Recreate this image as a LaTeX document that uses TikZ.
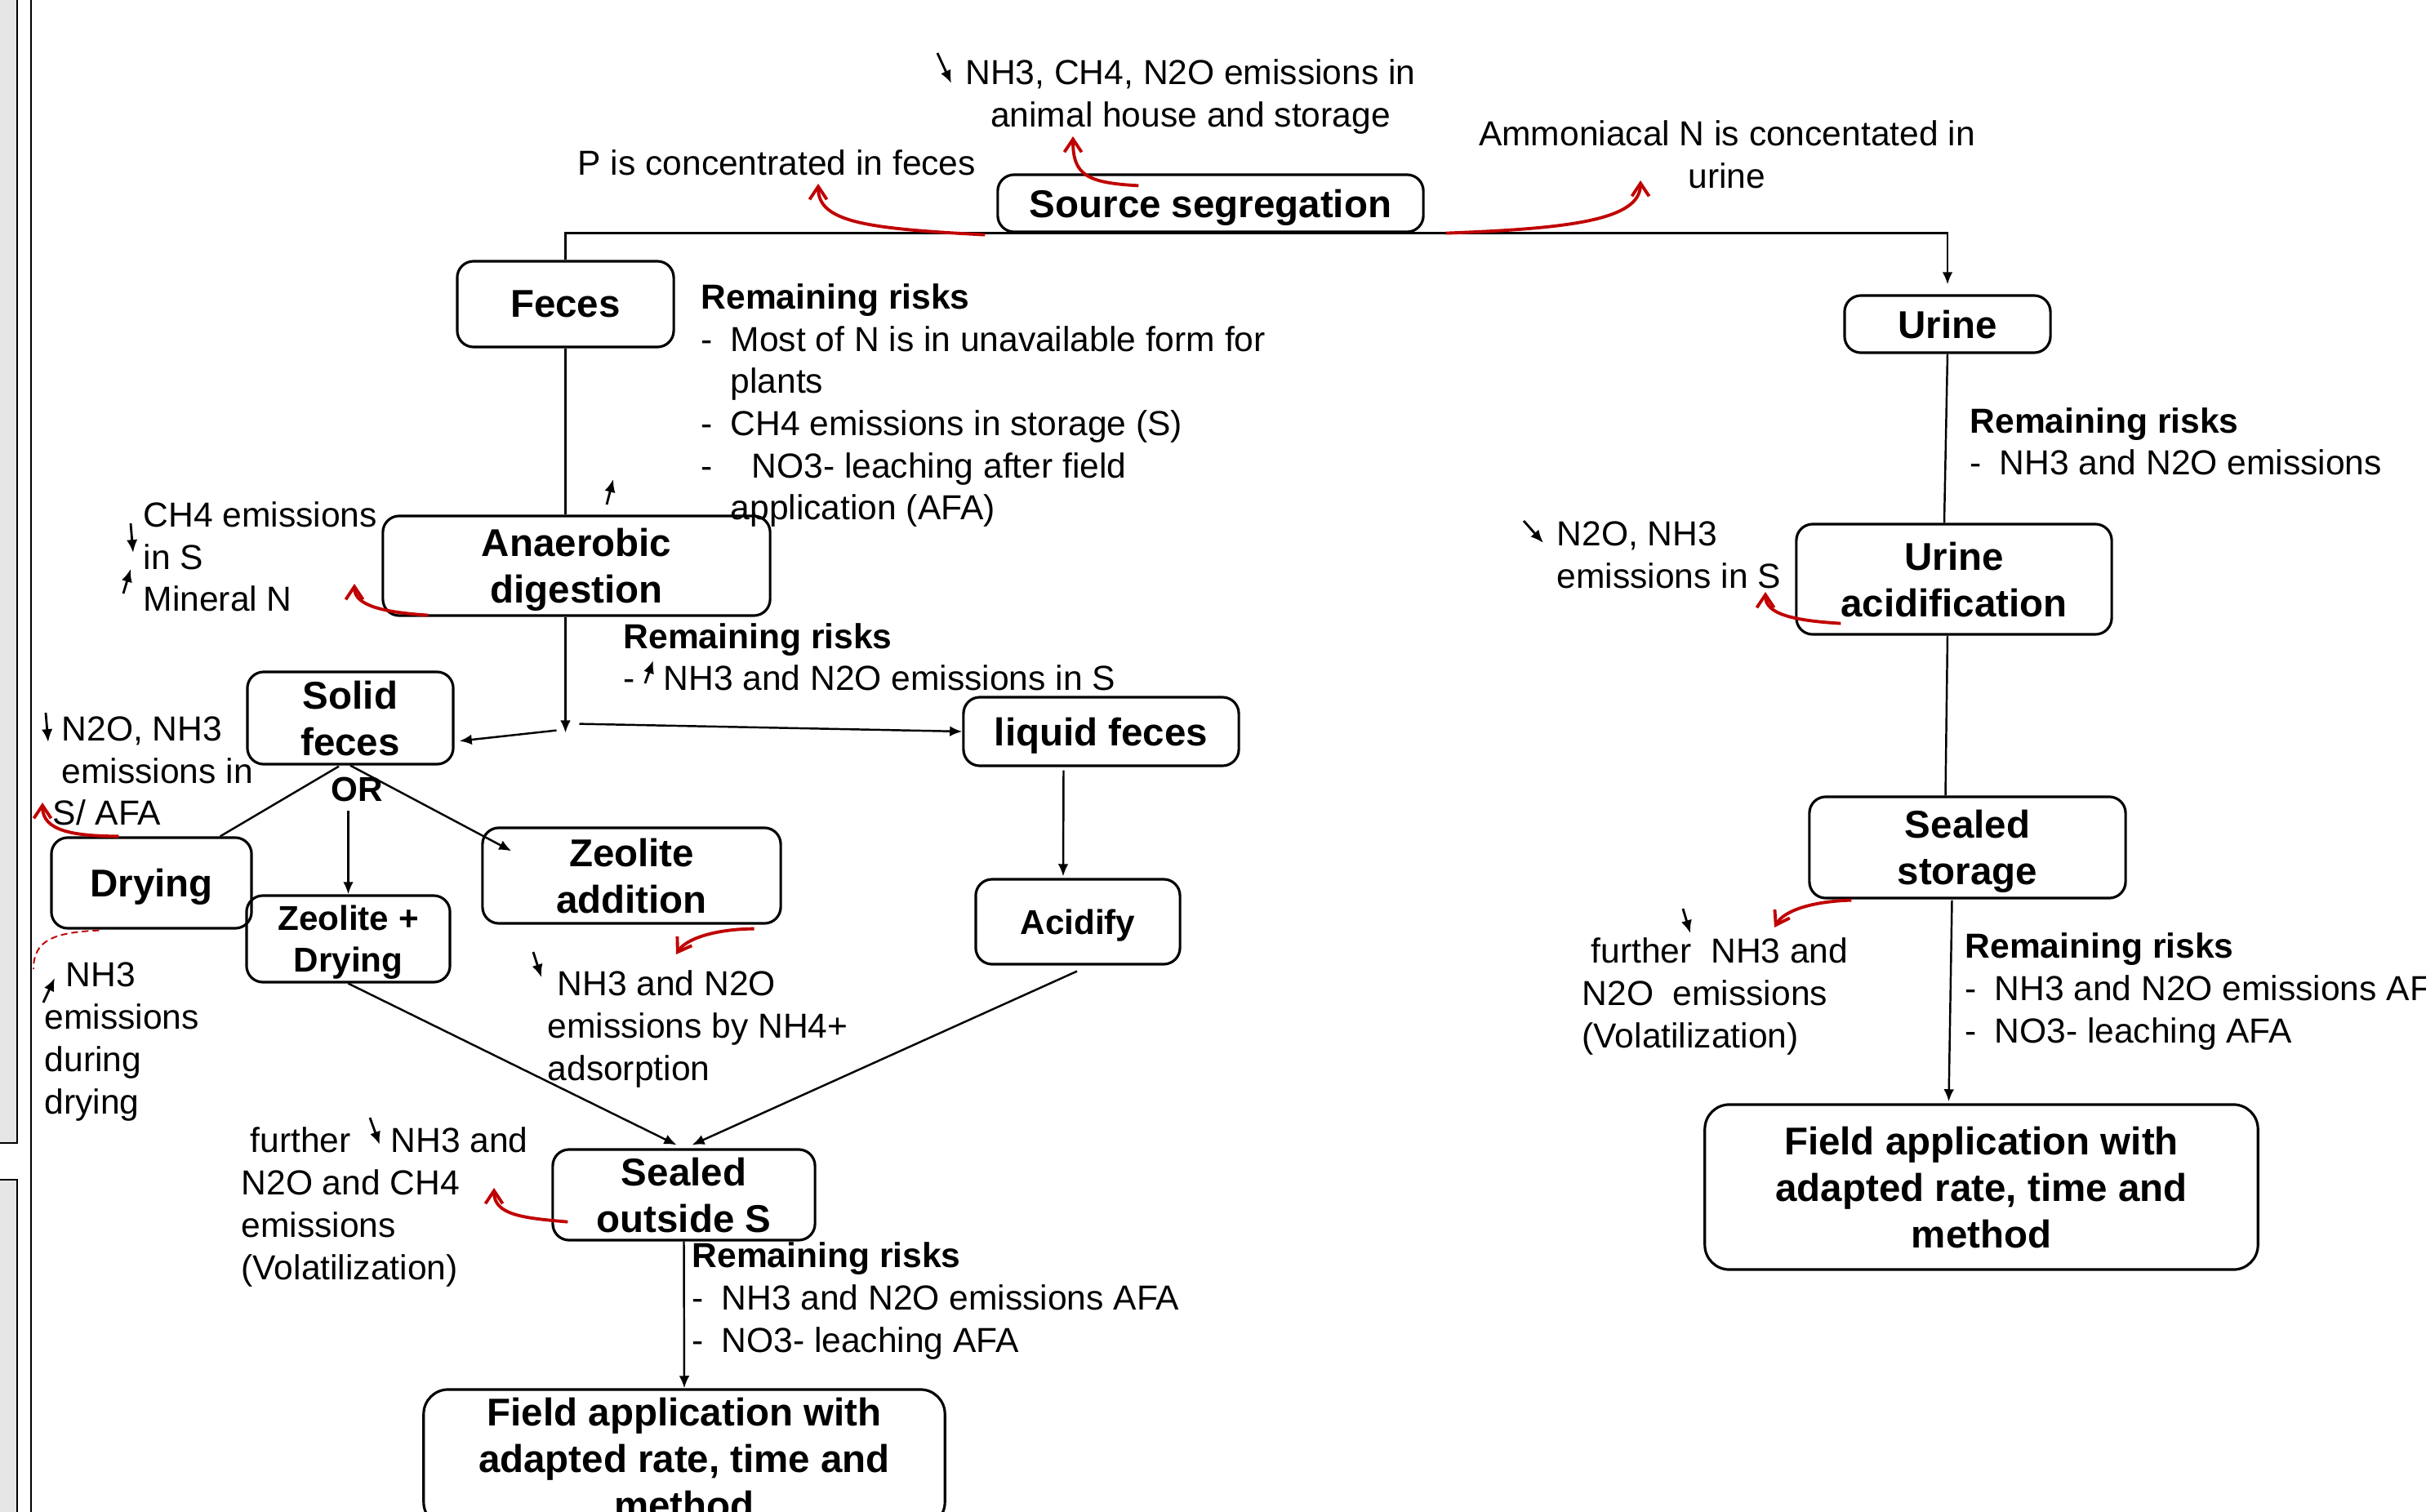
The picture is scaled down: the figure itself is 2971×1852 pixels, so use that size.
\documentclass[tikz,border=0pt]{standalone}
\usepackage{fontspec}
\setmainfont{Liberation Sans}
\usetikzlibrary{positioning,calc,arrows.meta}
\definecolor{effectred}{HTML}{C00000}
\definecolor{panelgrey}{HTML}{E7E6E6}
\tikzstyle{stage}=[
  draw=black,
  rounded corners=2mm,
  line width=.9pt,
  align=center,
  inner sep=0pt,
  text depth=0pt,
  font=\fontsize{13.5}{16.2}\selectfont\bfseries
]
% notes sit on the baseline of their last line
\tikzstyle{note}=[
  align=left,
  inner sep=0pt,
  anchor=base west,
  font=\fontsize{12.1}{14.7}\selectfont
]
\tikzstyle{link}=[draw=black,line width=.7pt,>={Latex[length=4.3pt,width=3.6pt]}]
\tikzstyle{effect}=[draw=effectred,line width=1.1pt,-{Straight Barb[length=4.5pt,width=6pt]}]
\tikzstyle{trend}=[draw=black,line width=.8pt,-{Latex[length=4.5pt,width=3.8pt]}]
\newcommand{\riskdash}{\makebox[0.36cm][l]{-}}
\newcommand{\riskgap}{\hspace*{0.36cm}}

\begin{document}
\begin{tikzpicture}[x=0.01cm,y=-0.01cm]
  \useasboundingbox (0,0) rectangle (2971,1852);
  \clip (0,0) rectangle (2971,1852);
  % slide edge
  \draw[fill=panelgrey,line width=.6pt] (-10,-10) rectangle (21,1400);
  \draw[fill=panelgrey,line width=.6pt] (-10,1445) rectangle (21,1870);
  \draw[line width=.6pt] (38,-10) -- (38,1870);

  % stages
  \node[stage,minimum width=5.21cm,minimum height=0.70cm] (source) at (1482.5,249) {Source segregation};
  \node[stage,minimum width=2.65cm,minimum height=1.05cm] (feces) at (692.5,372.5) {Feces};
  \node[stage,minimum width=2.52cm,minimum height=0.70cm] (urine) at (2385,397) {Urine};
  \node[stage,minimum width=4.74cm,minimum height=1.22cm] (anaer) at (706,693) {Anaerobic\\digestion};
  \node[stage,minimum width=2.52cm,minimum height=1.13cm] (solid) at (429,879.5) {Solid\\feces};
  \node[stage,minimum width=3.37cm,minimum height=0.84cm] (liquid) at (1348.5,896) {liquid feces};
  \node[stage,minimum width=2.45cm,minimum height=1.11cm] (drying) at (185.5,1081.5) {Drying};
  \node[stage,minimum width=2.49cm,minimum height=1.06cm,font=\fontsize{12}{14.5}\selectfont\bfseries] (zeodry) at (426.5,1150) {Zeolite +\\Drying};
  \node[stage,minimum width=3.65cm,minimum height=1.17cm] (zeoadd) at (773.5,1072.5) {Zeolite\\addition};
  \node[stage,minimum width=2.50cm,minimum height=1.04cm,font=\fontsize{12}{14.5}\selectfont\bfseries] (acidify) at (1320,1129) {Acidify};
  \node[stage,minimum width=3.21cm,minimum height=1.11cm] (sealedout) at (837.5,1463.5) {Sealed\\outside S};
  \node[stage,minimum width=6.38cm,minimum height=1.68cm,rounded corners=3mm] (fieldL) at (838,1786) {Field application with\\adapted rate, time and\\method};
  \node[stage,minimum width=3.86cm,minimum height=1.35cm] (urineacid) at (2393,709.5) {Urine\\acidification};
  \node[stage,minimum width=3.87cm,minimum height=1.24cm] (sealedst) at (2409.5,1038) {Sealed\\storage};
  \node[stage,minimum width=6.77cm,minimum height=2.02cm,rounded corners=3mm] (fieldR) at (2426.5,1454) {Field application with\\adapted rate, time and\\method};
  \node[font=\fontsize{12}{14}\selectfont\bfseries,inner sep=0pt] (or) at (437,967) {OR};

  % notes
  \node[note,align=center,anchor=base] (housenote) at (1458,155.5) {NH3, CH4, N2O emissions in\\animal house and storage};
  \node[note] (pnote) at (707,215) {P is concentrated in feces};
  \node[note,align=center,anchor=base] (ammnote) at (2115,230.5) {Ammoniacal N is concentated in\\urine};
  \node[note] (fecesrisk) at (858,637) {\textbf{Remaining risks}\\
    \riskdash Most of N is in unavailable form for\\
    \riskgap plants\\
    \riskdash CH4 emissions in storage (S)\\
    \riskdash\hspace*{0.26cm}NO3- leaching after field\\
    \riskgap application (AFA)};
  \node[note] (anaerrisk) at (763,846) {\textbf{Remaining risks}\\\makebox[0.49cm][l]{-}NH3 and N2O emissions in S};
  \node[note] (ch4note) at (175,749) {CH4 emissions\\in S\\Mineral N};
  \node[note] (solidnote) at (64,1011) {\hspace*{0.11cm}N2O, NH3\\\hspace*{0.11cm}emissions in\\S/ AFA};
  \node[note] (dryingnote) at (54,1364) {\hspace*{0.26cm}NH3\\emissions\\during\\drying};
  \node[note] (zeonote) at (670,1323) {\hspace*{0.12cm}NH3 and N2O\\emissions by NH4+\\adsorption};
  \node[note] (outnote) at (295,1567) {\hspace*{0.11cm}further\hspace*{0.49cm}NH3 and\\N2O and CH4\\emissions\\(Volatilization)};
  \node[note] (outrisk) at (847,1656) {\textbf{Remaining risks}\\\riskdash NH3 and N2O emissions AFA\\\riskdash NO3- leaching AFA};
  \node[note] (urinerisk) at (2412,582) {\textbf{Remaining risks}\\\riskdash NH3 and N2O emissions};
  \node[note] (acidnote) at (1906,720.5) {N2O, NH3\\emissions in S};
  \node[note] (storenote) at (1937,1283) {\hspace*{0.11cm}further\ \ NH3 and\\N2O\ \ emissions\\(Volatilization)};
  \node[note] (storerisk) at (2406,1277) {\textbf{Remaining risks}\\\riskdash NH3 and N2O emissions AFA\\\riskdash NO3- leaching AFA};

  % flow
  \coordinate (split) at ($(feces.south |- anaer.south)+(0,142)$);
  \draw[link,->,shorten >=3.4pt] (feces.north) -- (feces.north |- source.south) -| (urine.north);
  \draw[link] (feces.south) -- (feces.south |- anaer.north);
  \draw[link,->] (feces.south |- anaer.south) -- (split);
  \draw[link,->] ($(split)+(-11,-3)$) -- ($(solid.south east)+(6,-30)$);
  \draw[link,->] ($(split)+(17,-11)$) -- (liquid.west);
  \draw[link] ($(solid.south)+(-14,1)$) -- ($(drying.north east)+(-40,0)$);
  \draw[link,->,shorten <=3pt] (zeodry.north |- or.south) -- (zeodry.north);
  \draw[link,->] (solid.south) -- ($(zeoadd.north west)+(37,30)$);
  \draw[link,->] ($(liquid.south)+(-46,4)$) -- ($(acidify.north)+(-18,-2)$);
  \draw[link,->] (zeodry.south) -- ($(sealedout.north)+(-9,-4)$);
  \draw[link,->] ($(acidify.south)+(-1,7)$) -- ($(sealedout.north)+(10,-4)$);
  \draw[link,->] (sealedout.south) -- (fieldL.north);
  \draw[link] (urine.south) -- ($(urineacid.north)+(-12,0)$);
  \draw[link] ($(urineacid.south)+(-8,0)$) -- ($(sealedst.north)+(-27,0)$);
  \draw[link,->] ($(sealedst.south)+(-19,1)$) -- ($(fieldR.north)+(-40,-2)$);

  % effects (red)
  \coordinate (ptip) at (1002,225);
  \coordinate (housetip) at (1314,167);
  \coordinate (ammtip) at (2009,221);
  \coordinate (ch4tip) at (434,715);
  \coordinate (drytip) at (52,983);
  \coordinate (zeotip) at (828,1169);
  \coordinate (outtip) at (605,1455);
  \coordinate (acidtip) at (2162,725);
  \coordinate (storetip) at (2173,1136);
  \coordinate (dashend) at (41,1187);
  \draw[effect] ($(source.south west)+(-14,2)$) .. controls (1060,280) and (1002,272) .. (ptip);
  \draw[effect] ($(source.north west)+(174,15)$) .. controls (1330,224) and (1314,214) .. (housetip);
  \draw[effect] ($(source.south east)+(26,0)$) .. controls (1920,280) and (2009,270) .. (ammtip);
  \draw[effect] ($(anaer.south west)+(57,-2)$) .. controls (470,750) and (434,742) .. (ch4tip);
  \draw[effect] ($(drying.north west)+(84,0)$) .. controls (90,1024) and (52,1018) .. (drytip);
  \draw[effect] ($(zeoadd.south east)+(-34,5)$) .. controls (875,1138) and (840,1150) .. (zeotip);
  \draw[effect] ($(sealedout.south west)+(20,-24)$) .. controls (640,1492) and (605,1488) .. (outtip);
  \draw[effect] ($(urineacid.south west)+(56,-15)$) .. controls (2195,760) and (2162,752) .. (acidtip);
  \draw[effect] ($(sealedst.south west)+(53,1)$) .. controls (2220,1104) and (2185,1115) .. (storetip);
  \draw[draw=effectred,line width=.55pt,dash pattern=on 2.3pt off 1.4pt] ($(drying.south west)+(60,1)$) .. controls (65,1142) and (41,1152) .. (dashend);

  % up / down markers
  \draw[trend] (1148,65) -- (1165,102);
  \draw[trend] (743,618) -- (751,587);
  \draw[trend] (160,641) -- (163,677);
  \draw[trend] (151,727) -- (160,697);
  \draw[trend] (790,837) -- (800,809);
  \draw[trend] (56,873) -- (59,909);
  \draw[trend] (53,1228) -- (67,1198);
  \draw[trend] (653,1166) -- (663,1197);
  \draw[trend] (453,1369) -- (465,1402);
  \draw[trend] (1866,638) -- (1890,665);
  \draw[trend] (2061,1113) -- (2070,1143);
\end{tikzpicture}
\end{document}
